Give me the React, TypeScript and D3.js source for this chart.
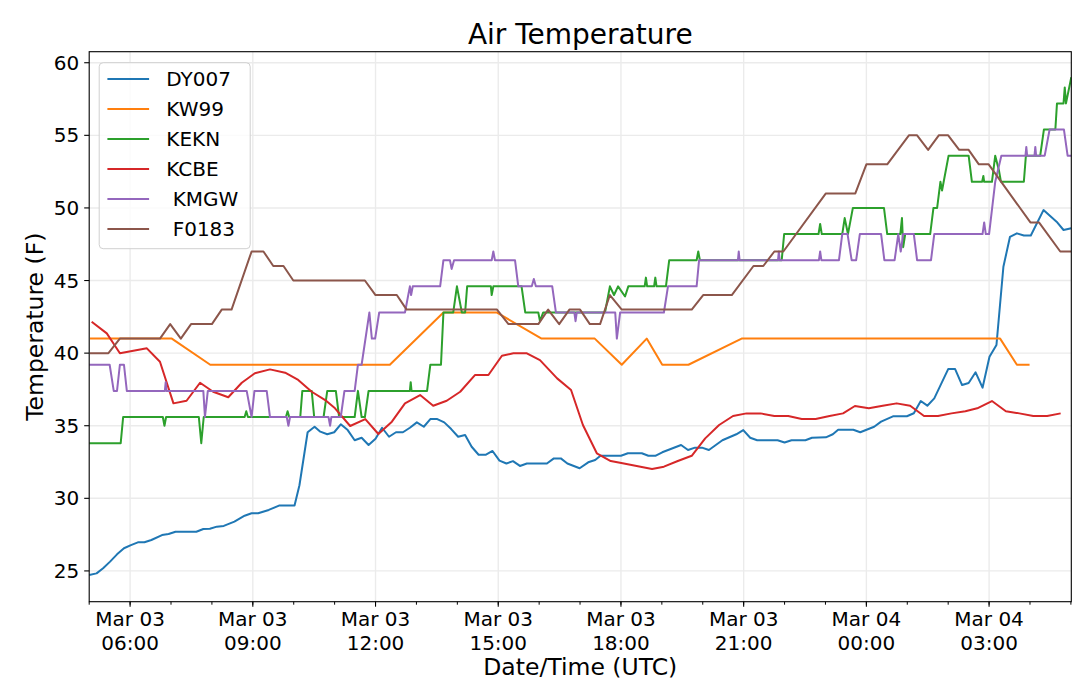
import * as d3 from "d3";
import React from "react";

// hours after Mar 03 05:00 UTC, temperature (F)
const HOUR = 3600 * 1000;
const base = Date.UTC(2019, 2, 3, 5, 0);

const stations = ["DY007", "KW99", "KEKN", "KCBE", " KMGW", " F0183"];
const colors = ["#1f77b4", "#ff7f0e", "#2ca02c", "#d62728", "#9467bd", "#8c564b"];
const yTicks = [25, 30, 35, 40, 45, 50, 55, 60];

const dy007: [number, number][] = [
  [0, 24.72], [0.18, 24.83], [0.34, 25.18], [0.51, 25.64], [0.68, 26.14], [0.85, 26.56],
  [1.02, 26.78], [1.19, 26.97], [1.35, 26.97], [1.52, 27.13], [1.78, 27.47], [1.94, 27.54],
  [2.11, 27.7], [2.62, 27.7], [2.79, 27.89], [2.95, 27.9], [3.12, 28.05], [3.29, 28.1],
  [3.55, 28.4], [3.8, 28.8], [3.97, 28.97], [4.13, 28.97], [4.39, 29.2], [4.64, 29.5],
  [5.02, 29.5], [5.14, 30.9], [5.34, 34.55], [5.51, 34.93], [5.65, 34.59], [5.82, 34.41],
  [5.99, 34.55], [6.15, 35.1], [6.32, 34.7], [6.49, 34.0], [6.66, 34.17], [6.83, 33.67],
  [7.0, 34.1], [7.16, 34.86], [7.33, 34.24], [7.5, 34.55], [7.67, 34.55], [7.84, 34.86],
  [8.01, 35.23], [8.18, 34.93], [8.34, 35.46], [8.51, 35.46], [8.68, 35.23], [8.85, 34.77],
  [9.02, 34.24], [9.19, 34.36], [9.35, 33.55], [9.52, 33.0], [9.69, 33.0], [9.86, 33.26],
  [10.03, 32.6], [10.2, 32.4], [10.36, 32.56], [10.53, 32.23], [10.7, 32.4], [11.19, 32.4],
  [11.36, 32.75], [11.53, 32.75], [11.69, 32.4], [11.99, 32.07], [12.2, 32.48], [12.37, 32.64],
  [12.5, 32.93], [13.0, 32.93], [13.17, 33.1], [13.51, 33.1], [13.67, 32.93], [13.84, 32.93],
  [14.01, 33.17], [14.47, 33.67], [14.64, 33.33], [14.81, 33.49], [14.98, 33.49], [15.15, 33.33],
  [15.48, 34.0], [15.82, 34.41], [15.99, 34.7], [16.16, 34.17], [16.33, 34.0], [16.83, 34.0],
  [17.0, 33.85], [17.17, 34.0], [17.51, 34.0], [17.67, 34.17], [18.01, 34.2], [18.18, 34.41],
  [18.31, 34.72], [18.68, 34.72], [18.85, 34.55], [19.19, 34.93], [19.36, 35.28], [19.65, 35.65],
  [19.99, 35.65], [20.16, 35.86], [20.33, 36.7], [20.49, 36.38], [20.66, 36.88], [21.0, 38.9],
  [21.17, 38.9], [21.34, 37.8], [21.5, 37.94], [21.67, 38.68], [21.84, 37.62], [22.01, 39.75],
  [22.18, 40.56], [22.35, 45.95], [22.51, 48.0], [22.68, 48.25], [22.85, 48.1], [23.02, 48.1],
  [23.33, 49.85], [23.65, 49.05], [23.82, 48.48], [24.01, 48.6],
];

const kw99: [number, number][] = [
  [0.02, 41.0], [2.02, 41.0], [2.96, 39.2], [7.35, 39.2], [8.66, 42.8], [9.96, 42.8],
  [11.06, 41.0], [12.36, 41.0], [13.02, 39.2], [13.63, 41.0], [14.01, 39.2], [14.65, 39.2],
  [15.95, 41.0], [22.27, 41.0], [22.68, 39.2], [22.99, 39.2],
];

const kekn: [number, number][] = [
  [0, 33.8], [0.77, 33.8], [0.83, 35.6], [1.8, 35.6], [1.84, 35.0], [1.88, 35.6],
  [2.68, 35.6], [2.74, 33.8], [2.8, 35.6], [3.8, 35.6], [3.84, 36.0], [3.88, 35.6],
  [4.81, 35.6], [4.85, 36.0], [4.89, 35.6], [5.16, 35.6], [5.21, 37.4], [5.44, 37.4],
  [5.5, 35.6], [5.73, 35.6], [5.82, 37.4], [6.03, 37.4], [6.11, 35.6], [6.49, 35.6],
  [6.57, 37.4], [6.66, 35.6], [6.74, 35.6], [6.83, 37.4], [7.84, 37.4], [7.86, 38.0],
  [7.88, 37.4], [8.26, 37.4], [8.34, 39.2], [8.6, 39.2], [8.66, 42.8], [8.9, 42.8],
  [8.99, 44.6], [9.11, 42.8], [9.19, 42.8], [9.24, 44.6], [9.82, 44.6], [9.84, 44.0],
  [9.88, 44.6], [10.57, 44.6], [10.66, 42.8], [10.98, 42.8], [11.02, 42.2], [11.1, 42.8],
  [12.61, 42.8], [12.73, 44.6], [12.83, 44.0], [12.93, 44.6], [13.1, 43.9], [13.18, 44.6],
  [13.58, 44.6], [13.61, 45.2], [13.64, 44.6], [13.81, 44.6], [13.84, 45.2], [13.87, 44.6],
  [14.1, 44.6], [14.18, 46.4], [14.85, 46.4], [14.89, 47.0], [14.93, 46.4], [16.93, 46.4],
  [16.99, 48.2], [17.83, 48.2], [17.87, 48.9], [17.91, 48.2], [18.41, 48.2], [18.47, 49.3],
  [18.55, 48.2], [18.67, 50.0], [19.43, 50.0], [19.51, 48.2], [19.83, 48.2], [19.87, 49.3],
  [19.9, 47.3], [19.95, 48.2], [20.56, 48.2], [20.64, 50.0], [20.73, 50.0], [20.81, 51.8],
  [20.85, 51.2], [20.89, 51.8], [21.01, 53.6], [21.5, 53.6], [21.58, 51.8], [21.83, 51.8],
  [21.86, 52.2], [21.88, 51.8], [22.07, 51.8], [22.15, 53.6], [22.24, 52.6], [22.29, 51.8],
  [22.85, 51.8], [22.9, 53.6], [23.25, 53.6], [23.34, 55.4], [23.62, 55.4], [23.66, 57.2],
  [23.82, 57.2], [23.85, 58.3], [23.88, 57.2], [24.01, 59.0],
];

const kcbe: [number, number][] = [
  [0.06, 42.16], [0.43, 41.36], [0.59, 40.68], [0.75, 39.99], [1.41, 40.33], [1.73, 39.41],
  [2.06, 36.54], [2.38, 36.72], [2.71, 37.96], [3.03, 37.34], [3.4, 36.96], [3.73, 37.96],
  [4.05, 38.61], [4.42, 38.88], [4.79, 38.65], [5.11, 38.15], [5.44, 37.34], [5.77, 36.77],
  [6.01, 36.2], [6.38, 34.98], [6.75, 35.46], [7.07, 34.43], [7.4, 35.28], [7.72, 36.54],
  [8.09, 37.11], [8.41, 36.38], [8.74, 36.72], [9.07, 37.34], [9.43, 38.49], [9.76, 38.49],
  [10.09, 39.82], [10.37, 39.99], [10.7, 39.99], [11.02, 39.52], [11.44, 38.26], [11.78, 37.46],
  [12.07, 35.05], [12.41, 33.1], [12.75, 32.57], [13.04, 32.41], [13.76, 32.02], [14.05, 32.18],
  [14.39, 32.57], [14.73, 32.93], [15.06, 34.13], [15.4, 35.05], [15.74, 35.67], [16.07, 35.85],
  [16.41, 35.85], [16.75, 35.67], [17.09, 35.67], [17.42, 35.46], [17.76, 35.46], [18.1, 35.67],
  [18.43, 35.85], [18.72, 36.36], [19.06, 36.2], [19.4, 36.38], [19.74, 36.54], [20.07, 36.38],
  [20.41, 35.67], [20.75, 35.67], [21.08, 35.85], [21.42, 36.0], [21.71, 36.2], [22.07, 36.7],
  [22.41, 36.0], [22.74, 35.85], [23.08, 35.67], [23.42, 35.67], [23.75, 35.85],
];

const kmgw: [number, number][] = [
  [0, 39.2], [0.5, 39.2], [0.6, 37.4], [0.68, 37.4], [0.75, 39.2], [0.85, 39.2],
  [0.92, 37.4], [1.85, 37.4], [1.87, 38.0], [1.89, 37.4], [2.79, 37.4], [2.83, 35.6],
  [2.9, 37.4], [3.85, 37.4], [3.97, 35.6], [4.04, 37.4], [4.34, 37.4], [4.42, 35.6],
  [4.83, 35.6], [4.87, 35.0], [4.91, 35.6], [5.85, 35.6], [5.89, 35.0], [5.92, 35.6],
  [6.15, 35.6], [6.24, 37.4], [6.49, 37.4], [6.57, 39.2], [6.66, 39.2], [6.85, 42.8],
  [6.91, 41.0], [6.99, 41.0], [7.09, 42.8], [7.72, 42.8], [7.84, 44.6], [7.87, 44.0],
  [7.91, 44.6], [8.58, 44.6], [8.66, 46.4], [8.82, 46.4], [8.86, 45.8], [8.92, 46.4],
  [9.84, 46.4], [9.88, 47.0], [9.92, 46.4], [10.41, 46.4], [10.49, 44.6], [10.82, 44.6],
  [10.87, 45.1], [10.92, 44.6], [11.32, 44.6], [11.41, 42.8], [11.86, 42.8], [11.89, 42.2],
  [11.92, 42.8], [12.86, 42.8], [12.9, 41.0], [12.98, 42.8], [14.05, 42.8], [14.15, 44.6],
  [14.85, 44.6], [14.91, 46.4], [15.86, 46.4], [15.88, 47.0], [15.9, 46.4], [16.84, 46.4],
  [16.86, 47.0], [16.88, 46.4], [17.84, 46.4], [17.87, 47.0], [17.9, 46.4], [18.33, 46.4],
  [18.41, 48.2], [18.54, 48.2], [18.64, 46.4], [18.75, 46.4], [18.84, 48.2], [19.36, 48.2],
  [19.44, 46.4], [19.69, 46.4], [19.78, 48.2], [19.84, 47.0], [19.9, 48.2], [20.16, 48.2],
  [20.24, 46.4], [20.58, 46.4], [20.66, 48.2], [21.84, 48.2], [21.88, 49.0], [21.92, 48.2],
  [22.0, 48.2], [22.15, 51.8], [22.3, 53.6], [22.89, 53.6], [22.91, 54.2], [22.93, 53.6],
  [23.11, 53.6], [23.13, 54.2], [23.15, 53.6], [23.36, 53.6], [23.48, 55.4], [23.83, 55.4],
  [23.92, 53.6], [24.01, 53.6],
];

const f0183: [number, number][] = [
  [0.02, 40], [0.47, 40], [0.75, 41], [1.73, 41], [1.98, 42], [2.24, 41], [2.49, 42],
  [3.0, 42], [3.24, 43], [3.48, 43], [3.97, 47], [4.26, 47], [4.5, 46], [4.75, 46],
  [4.99, 45], [6.74, 45], [7.0, 44], [7.52, 44], [7.76, 43], [9.97, 43], [10.25, 42],
  [10.98, 42], [11.22, 43], [11.49, 42], [11.74, 43], [12.0, 43], [12.24, 42], [12.49, 42],
  [12.73, 44], [13.02, 43], [14.73, 43], [15.01, 44], [15.71, 44], [16.24, 46], [16.48, 46],
  [16.75, 47], [16.97, 47], [18.01, 51], [18.73, 51], [19.0, 53], [19.51, 53], [20.04, 55],
  [20.24, 55], [20.51, 54], [20.77, 55], [21.0, 55], [21.27, 54], [21.5, 54], [21.75, 53],
  [21.99, 53], [23.01, 49], [23.22, 49], [23.74, 47], [24.01, 47],
];

const series = [dy007, kw99, kekn, kcbe, kmgw, f0183];

const W = 1080;
const H = 690;
const margin = { top: 51.7, right: 8.7, bottom: 88.3, left: 89.2 };
const font = "DejaVu Sans, sans-serif";

export default function App() {
  const x = d3
    .scaleUtc()
    .domain([new Date(base), new Date(base + 24.01 * HOUR)])
    .range([margin.left, W - margin.right]);
  const y = d3
    .scaleLinear()
    .domain([22.88, 60.76])
    .range([H - margin.bottom, margin.top]);

  const line = d3
    .line<[number, number]>()
    .x((d) => x(new Date(base + d[0] * HOUR)))
    .y((d) => y(d[1]));

  const majorTicks = x.ticks(d3.utcHour.every(3)!);
  const minorTicks = x.ticks(d3.utcHour.every(1)!);
  const fmtDay = d3.utcFormat("%b %d");
  const fmtTime = d3.utcFormat("%H:%M");
  const bottom = H - margin.bottom;

  return (
    <svg
      width={W}
      height={H}
      style={{ position: "absolute", left: 0, top: 0, background: "white" }}
      fontFamily={font}
    >
      <defs>
        <clipPath id="plot">
          <rect
            x={margin.left}
            y={margin.top}
            width={W - margin.left - margin.right}
            height={bottom - margin.top}
          />
        </clipPath>
      </defs>

      {/* grid */}
      {majorTicks.map((t, i) => (
        <line key={"gx" + i} x1={x(t)} x2={x(t)} y1={margin.top} y2={bottom} stroke="#ebebeb" strokeWidth={1.4} />
      ))}
      {yTicks.map((v) => (
        <line key={"gy" + v} x1={margin.left} x2={W - margin.right} y1={y(v)} y2={y(v)} stroke="#ebebeb" strokeWidth={1.4} />
      ))}

      {/* series */}
      <g clipPath="url(#plot)">
        {series.map((s, i) => (
          <path
            key={stations[i]}
            d={line(s) || ""}
            fill="none"
            stroke={colors[i]}
            strokeWidth={2}
            strokeLinejoin="round"
          />
        ))}
      </g>

      {/* frame */}
      <rect
        x={margin.left}
        y={margin.top}
        width={W - margin.left - margin.right}
        height={bottom - margin.top}
        fill="none"
        stroke="#000"
        strokeWidth={1.1}
      />

      {/* y axis */}
      {yTicks.map((v) => (
        <g key={"yt" + v}>
          <line x1={margin.left - 5} x2={margin.left} y1={y(v)} y2={y(v)} stroke="#000" strokeWidth={1.1} />
          <text x={margin.left - 10} y={y(v) + 7} textAnchor="end" fontSize={20} fill="#000">
            {v}
          </text>
        </g>
      ))}

      {/* x axis */}
      {minorTicks.map((t, i) => (
        <line key={"mt" + i} x1={x(t)} x2={x(t)} y1={bottom} y2={bottom + 3} stroke="#000" strokeWidth={1} />
      ))}
      {majorTicks.map((t, i) => (
        <g key={"xt" + i}>
          <line x1={x(t)} x2={x(t)} y1={bottom} y2={bottom + 5} stroke="#000" strokeWidth={1.1} />
          <text x={x(t)} y={626} textAnchor="middle" fontSize={20} fill="#000">
            {fmtDay(t)}
          </text>
          <text x={x(t)} y={650} textAnchor="middle" fontSize={20} fill="#000">
            {fmtTime(t)}
          </text>
        </g>
      ))}

      {/* labels */}
      <text x={(margin.left + W - margin.right) / 2} y={44} textAnchor="middle" fontSize={28} fill="#000">
        Air Temperature
      </text>
      <text x={(margin.left + W - margin.right) / 2} y={675} textAnchor="middle" fontSize={23.5} fill="#000">
        Date/Time (UTC)
      </text>
      <text
        transform={`translate(43,${(margin.top + bottom) / 2}) rotate(-90)`}
        textAnchor="middle"
        fontSize={23.5}
        fill="#000"
      >
        Temperature (F)
      </text>

      {/* legend */}
      <g>
        <rect x={99.2} y={62.7} width={151} height={186} rx={4} fill="#fff" fillOpacity={0.8} stroke="#d0d0d0" strokeWidth={1} />
        {stations.map((name, i) => (
          <g key={"lg" + i}>
            <line x1={107.4} x2={149.1} y1={79 + i * 30} y2={79 + i * 30} stroke={colors[i]} strokeWidth={2} />
            <text x={166.3} y={79 + i * 30 + 7.3} fontSize={20} fill="#000" style={{ whiteSpace: "pre" }}>
              {name}
            </text>
          </g>
        ))}
      </g>
    </svg>
  );
}
